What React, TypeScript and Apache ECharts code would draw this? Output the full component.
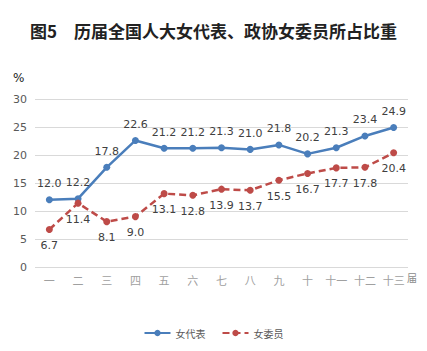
import React, { useEffect, useRef } from "react";
import * as echarts from "echarts";

const categories = ["一", "二", "三", "四", "五", "六", "七", "八", "九", "十", "十一", "十二", "十三"];
const deputies = [12.0, 12.2, 17.8, 22.6, 21.2, 21.2, 21.3, 21.0, 21.8, 20.2, 21.3, 23.4, 24.9];
const members = [6.7, 11.4, 8.1, 9.0, 13.1, 12.8, 13.9, 13.7, 15.5, 16.7, 17.7, 17.8, 20.4];
const seriesNames = ["女代表", "女委员"];
const titleText = "图5　历届全国人大女代表、政协女委员所占比重";

const BLUE = "#4a7ebb";
const RED = "#be4b48";

export default function App() {
  const ref = useRef<HTMLDivElement>(null);
  useEffect(() => {
    if (!ref.current) return;
    const chart = echarts.init(ref.current, undefined, { renderer: "svg" });
    const labelStyle = {
      show: true,
      fontFamily: "DejaVu Sans",
      fontSize: 11,
      color: "#404040",
      formatter: (p: any) => Number(p.value).toFixed(1),
    };
    chart.setOption({
      animation: false,
      backgroundColor: "#ffffff",
      title: {
        text: titleText,
        left: "center",
        top: 17,
        textStyle: {
          fontFamily: "Noto Sans CJK SC",
          fontWeight: "bold",
          fontSize: 17,
          color: "#222222",
        },
      },
      graphic: [
        {
          type: "text",
          left: 13,
          top: 72,
          style: { text: "%", font: "12px DejaVu Sans", fill: "#222" },
        },
        {
          type: "text",
          left: 407,
          top: 272,
          style: { text: "届", font: "10px Noto Sans CJK SC", fill: "#8c8c8c" },
        },
      ],
      legend: {
        bottom: 8,
        left: "center",
        itemWidth: 26,
        itemHeight: 8,
        itemGap: 16,
        textStyle: { fontFamily: "Noto Sans CJK SC", fontSize: 10, color: "#595959" },
        data: seriesNames,
      },
      grid: { left: 35, right: 19, top: 99, bottom: 84 },
      xAxis: {
        type: "category",
        data: categories,
        boundaryGap: true,
        axisLine: { show: false },
        axisTick: { show: false },
        axisLabel: {
          fontFamily: "Noto Sans CJK SC",
          fontSize: 11,
          color: "#a0a0a0",
          margin: 7,
          interval: 0,
        },
      },
      yAxis: {
        type: "value",
        min: 0,
        max: 30,
        interval: 5,
        axisLine: { show: false },
        axisTick: { show: false },
        axisLabel: { fontFamily: "DejaVu Sans", fontSize: 11, color: "#595959", margin: 8 },
        splitLine: { lineStyle: { color: "#d9d9d9", width: 1 } },
      },
      series: [
        {
          name: seriesNames[0],
          type: "line",
          data: deputies,
          symbol: "circle",
          symbolSize: 7,
          lineStyle: { color: BLUE, width: 2.5 },
          itemStyle: { color: BLUE },
          label: { ...labelStyle, position: "top", distance: 7 },
        },
        {
          name: seriesNames[1],
          type: "line",
          data: members,
          symbol: "circle",
          symbolSize: 7,
          lineStyle: { color: RED, width: 2.5, type: [7, 4] },
          itemStyle: { color: RED },
          label: { ...labelStyle, position: "bottom", distance: 7 },
        },
      ],
    });
    return () => chart.dispose();
  }, []);
  return <div ref={ref} style={{ width: 427, height: 351, position: "absolute", left: 0, top: 0 }} />;
}
